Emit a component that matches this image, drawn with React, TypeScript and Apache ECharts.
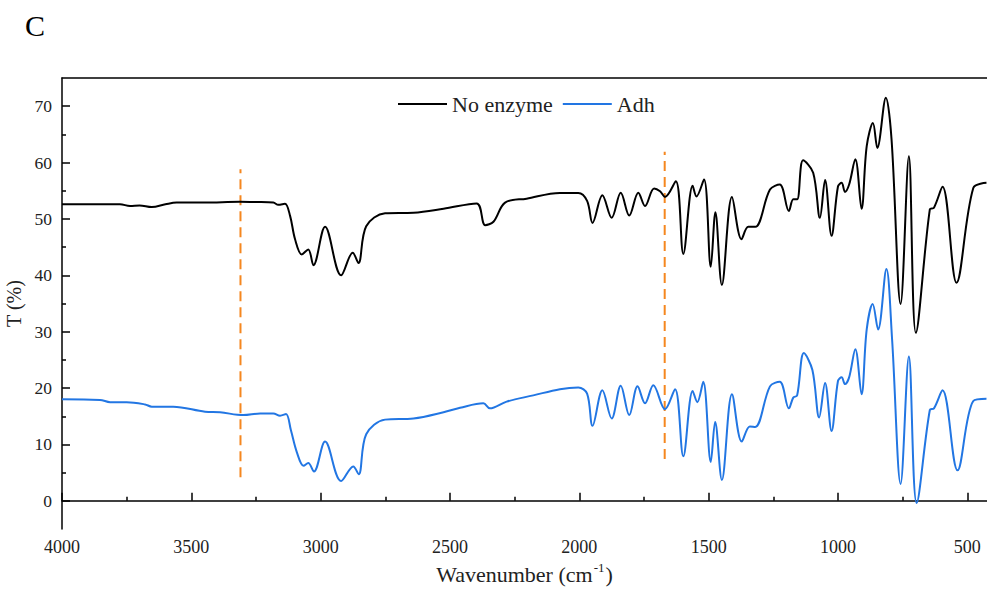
import React, { useEffect, useRef } from 'react';
import * as echarts from 'echarts';

const FONT = 'Liberation Serif, Times New Roman, serif';

const noEnzymeWavenumber = [
  4000, 3900, 3776, 3737, 3700, 3653, 3600, 3557, 3450, 3312, 3250, 3183, 3164, 3138, 3118,
  3099, 3073, 3048, 3028, 2983, 2921, 2876, 2854, 2824, 2751, 2641, 2525, 2397, 2364, 2332,
  2287, 2204, 2075, 2004, 1970, 1949, 1911, 1875, 1840, 1807, 1772, 1746, 1711, 1688, 1669,
  1627, 1598, 1562, 1547, 1518, 1492, 1474, 1449, 1410, 1373, 1347, 1320, 1263, 1225, 1190,
  1173, 1158, 1135, 1096, 1070, 1050, 1025, 1000, 986, 973, 957, 933, 909, 889, 865, 848,
  815, 793, 758, 726, 699, 645, 629, 596, 542, 477, 426,
];
const noEnzymeT = [
  52.6, 52.6, 52.6, 52.3, 52.4, 52.1, 52.6, 52.9, 52.9, 53.05, 53.0, 52.9, 52.5, 52.7, 50.5,
  46.4, 43.7, 44.6, 41.8, 48.6, 40.0, 44.0, 42.2, 48.7, 51.0, 51.1, 51.8, 52.75, 48.9, 49.5,
  52.9, 53.6, 54.6, 54.6, 53.2, 49.3, 54.2, 50.2, 54.65, 50.6, 54.65, 52.3, 55.4, 54.9, 53.9,
  56.7, 43.8, 55.9, 54.0, 57.0, 41.5, 51.2, 38.3, 53.9, 46.4, 48.6, 48.6, 55.2, 56.1, 51.4,
  53.5, 53.5, 60.4, 58.2, 50.2, 56.9, 47.0, 55.8, 56.4, 54.8, 56.1, 60.6, 51.8, 62.9, 67.0, 62.6,
  71.5, 64.1, 34.9, 61.1, 29.8, 51.7, 52.0, 55.7, 38.7, 55.5, 56.4,
];

const adhWavenumber = [
  4000, 3853, 3814, 3750, 3679, 3653, 3570, 3447, 3389, 3299, 3234, 3183, 3157, 3134, 3115,
  3092, 3066, 3048, 3026, 2983, 2921, 2874, 2853, 2824, 2751, 2641, 2525, 2461, 2371, 2346,
  2281, 2178, 2075, 2004, 1970, 1949, 1911, 1875, 1840, 1807, 1775, 1746, 1714, 1669, 1630,
  1598, 1562, 1544, 1521, 1492, 1475, 1449, 1410, 1372, 1341, 1320, 1263, 1225, 1190, 1173,
  1158, 1132, 1099, 1073, 1050, 1025, 1000, 986, 973, 957, 933, 909, 889, 866, 845, 813, 791,
  758, 726, 696, 645, 629, 596, 538, 477, 426,
];
const adhT = [
  18.0, 17.9, 17.5, 17.5, 17.1, 16.7, 16.7, 15.8, 15.7, 15.2, 15.5, 15.5, 15.1, 15.4, 12.5,
  8.6, 6.2, 6.7, 5.2, 10.5, 3.5, 6.1, 4.7, 11.8, 14.4, 14.6, 15.7, 16.5, 17.3, 16.4,
  17.6, 18.7, 19.8, 20.1, 19.0, 13.3, 19.6, 14.6, 20.4, 15.2, 20.3, 17.3, 20.5, 16.25, 19.8,
  7.9, 19.5, 17.5, 21.1, 6.9, 14.0, 3.7, 18.9, 10.5, 13.2, 13.1, 20.3, 21.1, 16.4, 18.3,
  18.7, 26.2, 23.2, 14.8, 20.9, 12.4, 21.3, 21.9, 20.7, 21.9, 26.9, 18.9, 30.4, 34.9, 30.4, 41.1, 28.7,
  3.0, 25.6, -0.4, 16.1, 16.4, 19.6, 5.4, 17.7, 18.1,
];

const xMajorTicks = [4000, 3500, 3000, 2500, 2000, 1500, 1000, 500];
const xMinorTicks = [3750, 3250, 2750, 2250, 1750, 1250, 750];
const yMajorTicks = [0, 10, 20, 30, 40, 50, 60, 70];
const yMinorTicks = [5, 15, 25, 35, 45, 55, 65];

const markerWavenumbers = [3310, 1670];
const markerLow = [4.2, 7.4];
const markerHigh = [58.8, 61.9];

const X_MIN = 424;
const X_MAX = 4000;
const Y_MIN = -5;
const Y_MAX = 75;

export default function App() {
  const ref = useRef<HTMLDivElement>(null);

  useEffect(() => {
    if (!ref.current) return;
    const chart = echarts.init(ref.current, undefined, { renderer: 'svg' });

    const pair = (xs: number[], ys: number[]) => xs.map((x, i) => [x, ys[i]]);
    const plain = (v: number) => String(v);

    const baseX = {
      type: 'value' as const,
      min: X_MIN,
      max: X_MAX,
      inverse: true,
      splitLine: { show: false },
    };
    const baseY = {
      type: 'value' as const,
      min: Y_MIN,
      max: Y_MAX,
      splitLine: { show: false },
    };

    const markerSeries = markerWavenumbers.map((w, i) => ({
      name: 'marker' + i,
      type: 'line',
      xAxisIndex: 0,
      yAxisIndex: 0,
      data: [
        [w, markerLow[i]],
        [w, markerHigh[i]],
      ],
      symbol: 'none',
      silent: true,
      lineStyle: { color: '#F5871F', width: 2, type: [10, 6] },
      z: 1,
    }));

    chart.setOption({
      animation: false,
      backgroundColor: '#fff',
      textStyle: { fontFamily: FONT },
      graphic: [
        {
          type: 'text',
          left: 25,
          top: 10,
          style: { text: 'C', fontFamily: FONT, fontSize: 30, fill: '#000' },
        },
      ],
      legend: {
        data: ['No enzyme', 'Adh'],
        left: 393,
        top: 88,
        icon: 'rect',
        itemWidth: 49,
        itemHeight: 2,
        itemGap: 10,
        textStyle: { fontFamily: FONT, fontSize: 22, color: '#222' },
      },
      grid: { left: 62, right: 0, top: 78, bottom: 66, outerBoundsMode: 'none', containLabel: false },
      xAxis: [
        {
          ...baseX,
          position: 'bottom',
          name: '{a|Wavenumber (cm}{b|-1}{a|)}',
          nameLocation: 'middle',
          nameGap: 31,
          nameTextStyle: {
            rich: {
              a: { fontFamily: FONT, fontSize: 22, color: '#222', lineHeight: 25, verticalAlign: 'bottom' },
              b: { fontFamily: FONT, fontSize: 13, color: '#222', lineHeight: 25, verticalAlign: 'top', padding: [0, 1, 0, 1] },
            },
          },
          axisLine: { show: true, lineStyle: { color: '#000', width: 1.5 } },
          axisTick: { show: true, inside: true, length: 8, customValues: xMajorTicks, lineStyle: { color: '#000', width: 1.5 } },
          axisLabel: {
            customValues: xMajorTicks,
            formatter: plain,
            fontFamily: FONT,
            fontSize: 18,
            color: '#222',
            margin: 9,
          },
        },
        {
          ...baseX,
          position: 'bottom',
          offset: 0,
          axisLine: { show: false },
          axisTick: { show: true, inside: true, length: 4, customValues: xMinorTicks, lineStyle: { color: '#000', width: 1.5 } },
          axisLabel: { show: false },
        },
        {
          ...baseX,
          position: 'top',
          axisLine: { show: true, lineStyle: { color: '#000', width: 1.5 } },
          axisTick: { show: false },
          axisLabel: { show: false },
        },
      ],
      yAxis: [
        {
          ...baseY,
          position: 'left',
          name: 'T (%)',
          nameLocation: 'middle',
          nameGap: 34,
          nameTextStyle: { fontFamily: FONT, fontSize: 20, color: '#222' },
          axisLine: { show: true, lineStyle: { color: '#000', width: 1.5 } },
          axisTick: { show: true, inside: true, length: 8, customValues: yMajorTicks, lineStyle: { color: '#000', width: 1.5 } },
          axisLabel: {
            customValues: yMajorTicks,
            formatter: plain,
            fontFamily: FONT,
            fontSize: 17.5,
            color: '#222',
            margin: 10,
          },
        },
        {
          ...baseY,
          position: 'left',
          offset: 0,
          axisLine: { show: false },
          axisTick: { show: true, inside: true, length: 4, customValues: yMinorTicks, lineStyle: { color: '#000', width: 1.5 } },
          axisLabel: { show: false },
        },
      ],
      series: [
        ...markerSeries,
        {
          name: 'No enzyme',
          type: 'line',
          xAxisIndex: 0,
          yAxisIndex: 0,
          data: pair(noEnzymeWavenumber, noEnzymeT),
          smooth: 0.35,
          symbol: 'none',
          color: '#000',
          lineStyle: { color: '#000', width: 2 },
          z: 3,
        },
        {
          name: 'Adh',
          type: 'line',
          xAxisIndex: 0,
          yAxisIndex: 0,
          data: pair(adhWavenumber, adhT),
          smooth: 0.35,
          symbol: 'none',
          color: '#2276E3',
          lineStyle: { color: '#2276E3', width: 2 },
          z: 3,
        },
      ],
    });

    return () => chart.dispose();
  }, []);

  return (
    <div
      ref={ref}
      style={{ position: 'fixed', left: 0, top: 0, width: 987, height: 595, background: '#fff' }}
    />
  );
}
